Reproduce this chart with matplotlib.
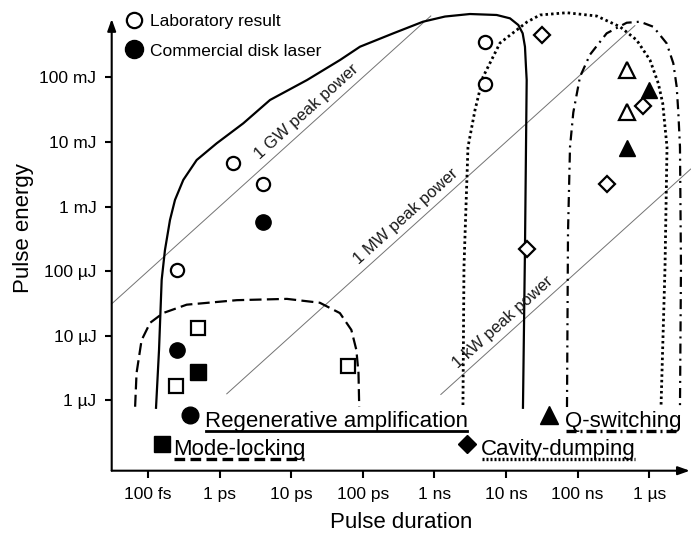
import matplotlib
matplotlib.use('Agg')
import matplotlib.pyplot as plt
from matplotlib.lines import Line2D
import numpy as np

plt.rcParams['font.family'] = ['Liberation Sans', 'DejaVu Sans']

# all values are log10(seconds) / log10(joules)
lab_circle_t = [-12.60, -11.81, -11.39, -8.29, -8.29]
lab_circle_e = [-3.98, -2.33, -2.65, -0.45, -1.10]
com_circle_t = [-11.39, -12.60]
com_circle_e = [-3.24, -5.22]

lab_square_t = [-12.30, -12.61, -10.20]
lab_square_e = [-4.885, -5.774, -5.464]
com_square_t = [-12.30]
com_square_e = [-5.557]

lab_diamond_t = [-7.50, -7.70, -6.59, -6.09]
lab_diamond_e = [-0.345, -3.658, -2.647, -1.444]

lab_tri_t = [-6.31, -6.31]
lab_tri_e = [-0.887, -1.533]
com_tri_t = [-6.00, -6.31]
com_tri_e = [-1.197, -2.099]

# regions of the different techniques
regen_t = [-12.888, -12.846, -12.809, -12.763, -12.693, -12.623, -12.507, -12.320, -12.041,
           -11.669, -11.296, -10.779, -10.318, -10.039, -9.574, -9.159, -8.852, -8.503,
           -8.130, -7.944, -7.828, -7.767, -7.735, -7.721, -7.711, -7.721, -7.735, -7.763]
regen_e = [-6.116, -5.218, -4.135, -3.673, -3.209, -2.898, -2.588, -2.280, -2.022,
           -1.712, -1.351, -1.042, -0.732, -0.526, -0.319, -0.139, -0.059, -0.020,
           -0.035, -0.087, -0.190, -0.319, -0.526, -0.836, -1.042, -2.126, -3.673, -6.116]
mode_t = [-13.18, -13.16, -13.09, -12.97, -12.79, -12.46, -11.76, -11.06, -10.60, -10.32,
          -10.16, -10.09, -10.06, -10.05]
mode_e = [-6.10, -5.58, -5.07, -4.80, -4.65, -4.52, -4.45, -4.43, -4.49, -4.65,
          -4.91, -5.22, -5.58, -6.10]
dump_t = [-8.601, -8.587, -8.531, -8.433, -8.321, -8.084, -7.707, -7.525, -7.152, -6.733,
          -6.408, -6.175, -5.989, -5.873, -5.811, -5.779, -5.751, -5.779, -5.835]
dump_e = [-6.073, -3.937, -2.080, -1.507, -0.995, -0.469, -0.144, -0.035, 0.000, -0.051,
          -0.217, -0.423, -0.732, -1.093, -1.402, -1.769, -2.080, -3.937, -6.104]
qsw_t = [-7.148, -7.134, -7.106, -7.060, -6.966, -6.827, -6.594, -6.314, -6.128, -5.943,
         -5.756, -5.663, -5.616, -5.593, -5.570, -5.556, -5.570]
qsw_e = [-6.104, -3.410, -2.080, -1.545, -0.991, -0.649, -0.319, -0.155, -0.139, -0.217,
         -0.474, -0.783, -1.146, -1.545, -2.080, -3.937, -6.104]

# constant peak power lines
peak_power = [9, 6, 3]
peak_t_start = [-13.51, -11.90, -8.91]
peak_t_end = [-9.05, -6.20, -5.42]
peak_labels = ['1 GW peak power', '1 MW peak power', '1 kW peak power']
peak_label_t = [-10.79, -9.40, -8.04]
peak_label_e = [-1.54, -3.16, -4.79]

xtick_pos = [-13, -12, -11, -10, -9, -8, -7, -6]
xtick_labels = ['100 fs', '1 ps', '10 ps', '100 ps', '1 ns', '10 ns', '100 ns', '1 µs']
ytick_pos = [-6, -5, -4, -3, -2, -1]
ytick_labels = ['1 µJ', '10 µJ', '100 µJ', '1 mJ', '10 mJ', '100 mJ']


def p(a):
    return 10.0 ** np.asarray(a, dtype=float)


fig = plt.figure(figsize=(6.91, 5.36), dpi=100)
ax = fig.add_axes([111.7 / 691, 1 - 470.7 / 536, (691 - 111.7) / 691, 470.7 / 536])
ax.set_xscale('log')
ax.set_yscale('log')
ax.set_xlim(p(-13.507), p(-5.416))
ax.set_ylim(p(-7.09), p(0.197))
for s in ax.spines.values():
    s.set_visible(False)
ax.minorticks_off()

# peak power lines
for pw, t0, t1, lab, lt, le in zip(peak_power, peak_t_start, peak_t_end, peak_labels,
                                   peak_label_t, peak_label_e):
    tt = np.array([t0, t1])
    ax.plot(p(tt), p(tt + pw), color='0.45', lw=0.7, clip_on=False)
    ax.text(p(lt), p(le), lab, rotation=42, rotation_mode='anchor', ha='center',
            va='center', fontsize=12, color='0.1')

lw = 1.6
ax.plot(p(regen_t), p(regen_e), color='k', lw=lw, clip_on=False, solid_joinstyle='round')
ax.plot(p(mode_t), p(mode_e), color='k', lw=lw, linestyle=(0, (5.4, 2.4)))
ax.plot(p(dump_t), p(dump_e), color='k', lw=2.0, linestyle=(0, (0.9, 1.1)),
        dash_capstyle='butt', clip_on=False)
ax.plot(p(qsw_t), p(qsw_e), color='k', lw=lw, linestyle=(0, (4.5, 2.3, 0.9, 2.3)),
        clip_on=False)

# markers
opn = dict(mfc='white', mec='k', mew=1.6, ls='none', zorder=5)
fil = dict(mfc='k', mec='k', mew=1.0, ls='none', zorder=5)
ax.plot(p(lab_circle_t), p(lab_circle_e), 'o', ms=9.5, **opn)
ax.plot(p(com_circle_t), p(com_circle_e), 'o', ms=11, **fil)
ax.plot(p(lab_square_t), p(lab_square_e), 's', ms=10.5, **opn)
ax.plot(p(com_square_t), p(com_square_e), 's', ms=11.5, **fil)
ax.plot(p(lab_diamond_t), p(lab_diamond_e), 'D', ms=8.5, **opn)
ax.plot(p(lab_tri_t), p(lab_tri_e), '^', ms=11, **opn)
ax.plot(p(com_tri_t), p(com_tri_e), '^', ms=12, **fil)

# technique labels with their marker and underline style
tech_names = ['Regenerative amplification', 'Mode-locking', 'Cavity-dumping', 'Q-switching']
tech_markers = ['o', 's', 'D', '^']
tech_ms = [12, 12, 9, 13]
tech_marker_t = [-12.413, -12.804, -8.545, -7.399]
tech_marker_e = [-6.226, -6.676, -6.676, -6.226]
tech_text_t = [-12.204, -12.65, -8.349, -7.176]
tech_text_e = [-6.413, -6.847, -6.847, -6.413]
tech_ls = ['-', (0, (3.2, 1.6)), (0, (0.6, 0.6)), (0, (3.0, 1.2, 0.6, 1.2))]

texts = []
for name, mk, ms, mt, me, tt, te in zip(tech_names, tech_markers, tech_ms, tech_marker_t,
                                         tech_marker_e, tech_text_t, tech_text_e):
    ax.plot(p(mt), p(me), mk, ms=ms, mfc='k', mec='k', ls='none', clip_on=False, zorder=5)
    texts.append(ax.text(p(tt), p(te), name, ha='left', va='baseline', fontsize=16,
                         clip_on=False))

fig.canvas.draw()
inv = ax.transAxes.inverted()
for txt, ls, tt, te in zip(texts, tech_ls, tech_text_t, tech_text_e):
    bb = txt.get_window_extent()
    base = ax.transData.transform((p(tt), p(te)))[1] - 4
    a0 = inv.transform((bb.x0 + 1, base))
    a1 = inv.transform((bb.x1 - 1, base))
    ax.plot([a0[0], a1[0]], [a0[1], a1[1]], transform=ax.transAxes, color='k',
            lw=2.0 if ls == '-' else 2.4, linestyle=ls, dash_capstyle='butt', clip_on=False)

# axes with arrows
arrow = dict(arrowstyle='-|>,head_length=0.7,head_width=0.25', lw=1.5, color='k',
             shrinkA=0, shrinkB=0, mutation_scale=10)
ax.annotate('', xy=(0.998, 0), xytext=(0, 0), xycoords='axes fraction', arrowprops=arrow)
ax.annotate('', xy=(0, (470.7 - 19) / 470.7), xytext=(0, 0), xycoords='axes fraction',
            arrowprops=arrow)

ax.set_xticks(p(xtick_pos))
ax.set_xticklabels(xtick_labels, fontsize=12.5)
ax.set_yticks(p(ytick_pos))
ax.set_yticklabels(ytick_labels, fontsize=12.5)
ax.tick_params(axis='x', which='major', length=5, width=1.5, direction='out', pad=7)
ax.tick_params(axis='y', which='major', length=5, width=1.5, direction='out', pad=6)
ax.minorticks_off()

fig.text(401 / 691, 1 - 523 / 536, 'Pulse duration', ha='center', va='center', fontsize=16)
fig.text(23 / 691, 1 - 228 / 536, 'Pulse energy', ha='center', va='center', fontsize=16,
         rotation=90)

handles = [Line2D([], [], marker='o', ls='none', ms=11, mfc='white', mec='k', mew=1.6),
           Line2D([], [], marker='o', ls='none', ms=13, mfc='k', mec='k')]
ax.legend(handles, ['Laboratory result', 'Commercial disk laser'], loc='upper left',
          bbox_to_anchor=(125.3 / 691, 1 - 14 / 536), bbox_transform=fig.transFigure,
          frameon=False, handlelength=1.0, handletextpad=0.45, labelspacing=0.82,
          borderpad=0, borderaxespad=0, fontsize=12.5)

fig.savefig('out.png', dpi=100)
